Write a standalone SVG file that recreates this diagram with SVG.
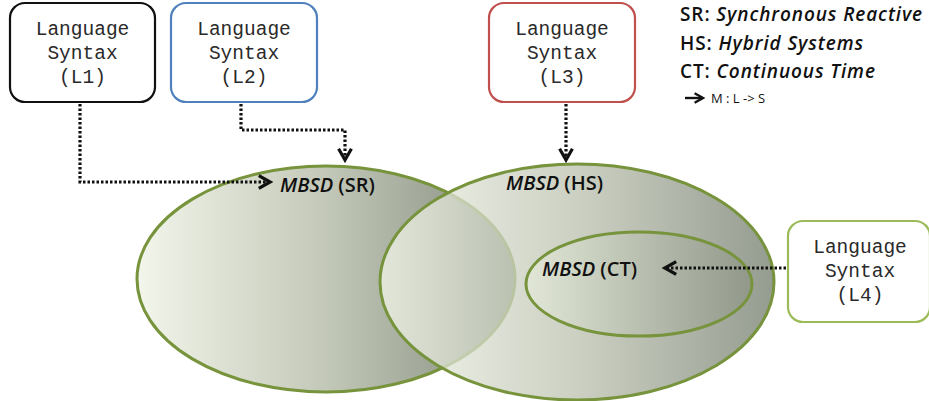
<svg xmlns="http://www.w3.org/2000/svg" width="929" height="401" viewBox="0 0 929 401">
<style>
.box{fill:#fff;stroke-width:2.2}
.lt{font-family:"Liberation Mono",monospace;font-size:19.5px;fill:#2a2a2a;text-anchor:middle}
.ell{stroke:#77933c;stroke-width:3}
.lab{font-family:"Open Sans","Liberation Sans",sans-serif;font-size:20px;font-weight:600;fill:#111}
.leg{font-family:"Open Sans","Liberation Sans",sans-serif;font-size:19px;font-weight:600;fill:#111;letter-spacing:0.9px}
.con{fill:none;stroke:#111;stroke-width:3.2;stroke-dasharray:2.5 2}
</style>
<defs>
<linearGradient id="g" x1="0" y1="0" x2="1" y2="0">
<stop offset="0" stop-color="#f1f5e9" stop-opacity="0.9"/>
<stop offset="0.5" stop-color="#bcc2b0" stop-opacity="0.9"/>
<stop offset="1" stop-color="#7b8475" stop-opacity="0.95"/>
</linearGradient>
<linearGradient id="g2" x1="0" y1="0" x2="1" y2="0">
<stop offset="0" stop-color="#e8eedc" stop-opacity="0.6"/>
<stop offset="1" stop-color="#8a9282" stop-opacity="0.6"/>
</linearGradient>
<marker id="ah" viewBox="0 0 10 10" refX="8" refY="5" markerWidth="5" markerHeight="5" orient="auto" markerUnits="strokeWidth">
<polyline points="1,1 8,5 1,9" fill="none" stroke="#111" stroke-width="2"/>
</marker>
</defs>

<g id="sr">
<ellipse class="ell" cx="326" cy="279" rx="189" ry="113" fill="url(#g)"/>
</g>
<g id="hs">
<ellipse class="ell" cx="577" cy="282" rx="197" ry="118" fill="url(#g)" fill-opacity="0.85"/>
</g>
<g id="ct">
<ellipse class="ell" cx="639" cy="284" rx="113" ry="52" fill="url(#g2)"/>
</g>
<g id="labels">
<text class="lab" x="280" y="192"><tspan font-style="italic">MBSD</tspan> (SR)</text>
<text class="lab" x="506" y="190"><tspan font-style="italic">MBSD</tspan> (HS)</text>
<text class="lab" x="542" y="276"><tspan font-style="italic">MBSD</tspan> (CT)</text>
</g>

<g id="l1">
<rect class="box" x="10" y="3" width="145" height="99" rx="15" stroke="#111"/>
<text class="lt" x="82.5" y="35">Language</text>
<text class="lt" x="82.5" y="59">Syntax</text>
<text class="lt" x="82.5" y="83">(L1)</text>
</g>
<g id="l2">
<rect class="box" x="171" y="3" width="146" height="99" rx="15" stroke="#4f81bd"/>
<text class="lt" x="244" y="35">Language</text>
<text class="lt" x="244" y="59">Syntax</text>
<text class="lt" x="244" y="83">(L2)</text>
</g>
<g id="l3">
<rect class="box" x="489" y="3" width="146" height="99" rx="15" stroke="#c0504d"/>
<text class="lt" x="562" y="35">Language</text>
<text class="lt" x="562" y="59">Syntax</text>
<text class="lt" x="562" y="83">(L3)</text>
</g>
<g id="l4">
<rect class="box" x="788" y="221" width="142" height="101" rx="15" stroke="#9bbb59"/>
<text class="lt" x="860" y="253">Language</text>
<text class="lt" x="860" y="277">Syntax</text>
<text class="lt" x="860" y="301">(L4)</text>
</g>

<g id="legend">
<text class="leg" x="680" y="21"><tspan>SR:</tspan> <tspan font-style="italic">Synchronous Reactive</tspan></text>
<text class="leg" x="680" y="50"><tspan>HS:</tspan> <tspan font-style="italic">Hybrid Systems</tspan></text>
<text class="leg" x="680" y="78"><tspan>CT:</tspan> <tspan font-style="italic">Continuous Time</tspan></text>
<line x1="685" y1="98" x2="703" y2="98" stroke="#111" stroke-width="2.4" marker-end="url(#ah)"/>
<text x="711" y="103" font-family="'Open Sans','Liberation Sans',sans-serif" font-size="13" fill="#111">M : L -&gt; S</text>
</g>

<g id="connectors">
<polyline class="con" points="80,104 80,182 270,182" marker-end="url(#ah)"/>
<polyline class="con" points="241,104 241,130 345,130 345,160" marker-end="url(#ah)"/>
<polyline class="con" points="566,104 566,160" marker-end="url(#ah)"/>
<polyline class="con" points="786,268 665,268" marker-end="url(#ah)"/>
</g>
</svg>
